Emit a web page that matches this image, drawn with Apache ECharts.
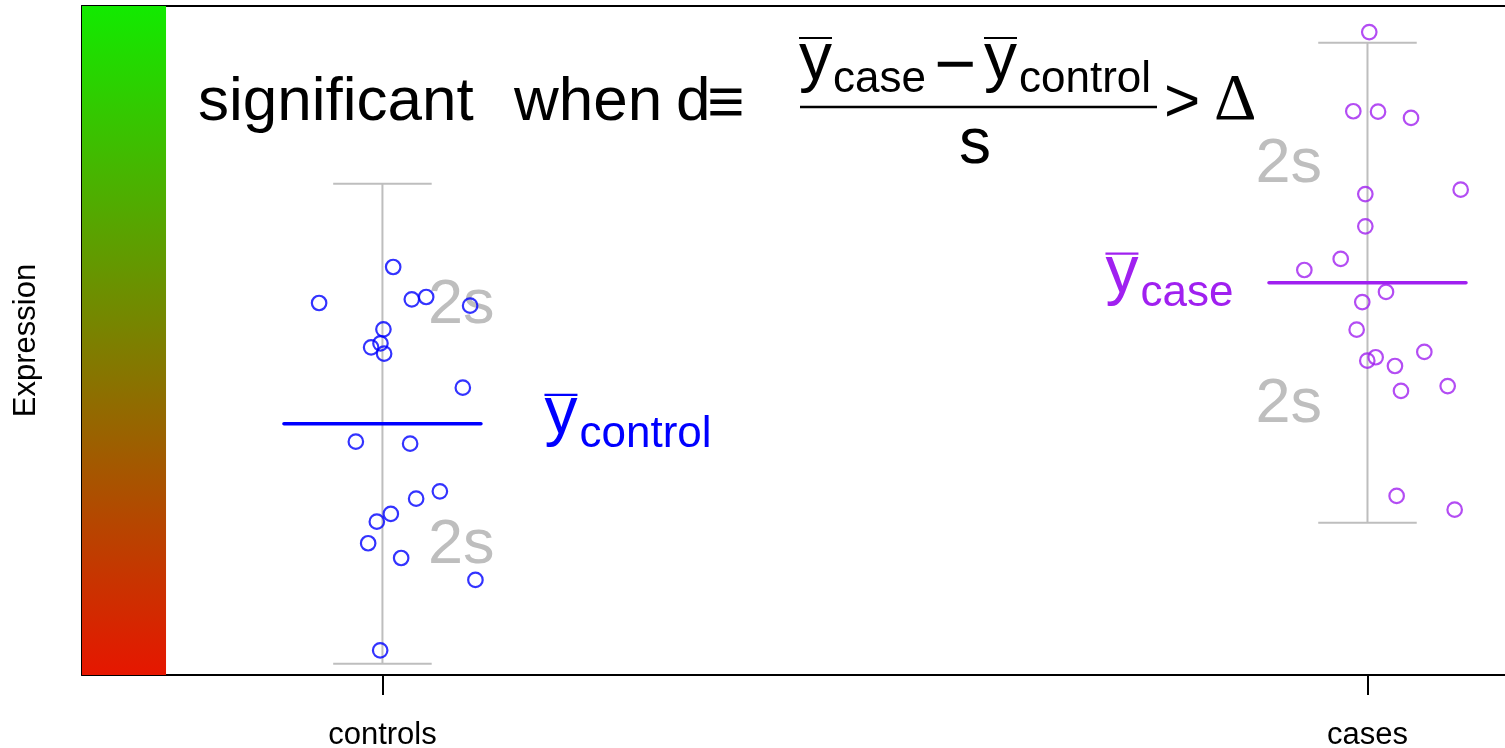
<!DOCTYPE html>
<html><head><meta charset="utf-8">
<script src="https://cdn.jsdelivr.net/npm/echarts@6/dist/echarts.min.js"></script>
<style>html,body{margin:0;padding:0;background:#fff}#c{width:1505px;height:748px}</style>
</head><body><div id="c"></div>
<script>
// ---- data ----
const groupNames = ['controls', 'cases'];
const groupPos = [1, 2];
const groupColors = ['#0000FF', '#A020F0'];
const controlsX = [1.0109, 0.9357, 1.0298, 1.0444, 1.0890, 1.0010, 0.9980, 0.9885, 1.0017, 1.0816,
                   0.9730, 1.0281, 1.0583, 1.0342, 1.0085, 0.9943, 0.9855, 1.0190, 1.0944, 0.9977];
const controlsY = [3.400, 3.100, 3.131, 3.150, 3.078, 2.881, 2.764, 2.731, 2.678, 2.394,
                   1.944, 1.928, 1.531, 1.469, 1.342, 1.278, 1.098, 0.975, 0.792, 0.206];
const casesX = [2.0018, 1.9856, 2.0107, 2.0442, 1.9978, 2.0946, 1.9978, 1.9728, 1.9359, 2.0188,
                1.9947, 1.9890, 2.0577, 2.0083, 1.9998, 2.0279, 2.0340, 2.0814, 2.0296, 2.0885];
const casesY = [5.358, 4.698, 4.694, 4.642, 4.008, 4.044, 3.739, 3.467, 3.375, 3.192,
                3.108, 2.878, 2.692, 2.648, 2.619, 2.575, 2.367, 2.408, 1.492, 1.378];
const groupSD = [1.0, 1.0];
const meanLabelSubs = ['control', 'case'];
const gradientBand = [0.695, 0.7803];
const xRange = [0.695, 2.1396];
const yRange = [0, 5.575];

// ---- derived ----
const mean = a => a.reduce((s, v) => s + v, 0) / a.length;
const groupMeans = [mean(controlsY), mean(casesY)];
const controlsData = controlsX.map((x, i) => [x, controlsY[i]]);
const casesData = casesX.map((x, i) => [x, casesY[i]]);
const statData = groupPos.map((p, i) => [p, groupMeans[i], groupSD[i], i]);

const FONT = "'Liberation Sans', Arial, Helvetica, sans-serif";
const GREY = '#BEBEBE';

function txt(text, x, baseline, size, opts) {
  opts = opts || {};
  return {
    type: 'text', x: x, y: baseline - 0.3465 * size,
    style: {
      text: text, fill: opts.color || '#000',
      font: size + 'px ' + (opts.family || FONT),
      align: opts.align || 'left', verticalAlign: 'middle'
    }
  };
}
function hline(x1, x2, y, w, color) {
  return { type: 'line', shape: { x1: x1, y1: y, x2: x2, y2: y }, style: { stroke: color || '#000', lineWidth: w } };
}

const chart = echarts.init(document.getElementById('c'));
chart.setOption({
  animation: false,
  backgroundColor: '#fff',
  grid: { left: 82, right: 0, top: 6, bottom: 73, containLabel: false, outerBoundsMode: 'none' },
  xAxis: [{
    type: 'value', min: xRange[0], max: xRange[1],
    axisLine: { show: true, onZero: false, lineStyle: { color: '#000', width: 2 } },
    axisTick: { show: true, customValues: groupPos, length: 20, lineStyle: { color: '#000', width: 2 } },
    axisLabel: { show: true, customValues: groupPos, margin: 45, fontSize: 31, color: '#000', fontFamily: FONT,
      formatter: v => groupNames[groupPos.indexOf(v)] || '' },
    splitLine: { show: false }
  }, {
    type: 'value', position: 'top', min: xRange[0], max: xRange[1],
    axisLine: { show: true, onZero: false, lineStyle: { color: '#000', width: 2 } },
    axisTick: { show: false }, axisLabel: { show: false }, splitLine: { show: false }
  }],
  yAxis: {
    type: 'value', min: yRange[0], max: yRange[1],
    name: 'Expression', nameLocation: 'middle', nameGap: 40,
    nameTextStyle: { fontSize: 31, color: '#000', fontFamily: FONT },
    axisLine: { show: true, onZero: false, lineStyle: { color: '#000', width: 2 } },
    axisTick: { show: false }, axisLabel: { show: false }, splitLine: { show: false }
  },
  series: [
    { // gradient band
      type: 'custom', clip: true, z: 1,
      data: [[gradientBand[0], gradientBand[1]]],
      renderItem: (params, api) => {
        const p0 = api.coord([api.value(0), yRange[1]]);
        const p1 = api.coord([api.value(1), yRange[0]]);
        return {
          type: 'rect', shape: { x: p0[0], y: p0[1], width: p1[0] - p0[0], height: p1[1] - p0[1] },
          style: { fill: new echarts.graphic.LinearGradient(0, 0, 0, 1, [
            { offset: 0, color: '#12EA00' }, { offset: 1, color: '#E61600' }]) }
        };
      }
    },
    { // error bars ±2s
      type: 'custom', z: 2,
      data: statData,
      renderItem: (params, api) => {
        const g = api.value(0), m = api.value(1), s = api.value(2);
        const t = api.coord([g, m + 2 * s]), b = api.coord([g, m - 2 * s]);
        const cl = api.coord([g - 0.05, m]), cr = api.coord([g + 0.05, m]);
        return { type: 'group', children: [
          { type: 'line', shape: { x1: t[0], y1: t[1], x2: b[0], y2: b[1] }, style: { stroke: GREY, lineWidth: 2 } },
          hline(cl[0], cr[0], t[1], 2, GREY),
          hline(cl[0], cr[0], b[1], 2, GREY)
        ]};
      }
    },
    { // "2s" labels
      type: 'custom', z: 3,
      data: statData,
      renderItem: (params, api) => {
        const g = api.value(0), m = api.value(1), s = api.value(2), i = api.value(3);
        const dx = i === 0 ? 0.08 : -0.08;
        const up = api.coord([g + dx, m + s]), dn = api.coord([g + dx, m - s]);
        const st = { text: '2s', fill: GREY, font: '63px ' + FONT, align: 'center', verticalAlign: 'middle' };
        return { type: 'group', children: [
          { type: 'text', x: up[0], y: up[1] + 2, style: Object.assign({}, st) },
          { type: 'text', x: dn[0], y: dn[1] + 2, style: Object.assign({}, st) }
        ]};
      }
    },
    { name: 'controls', type: 'scatter', z: 4, data: controlsData, symbol: 'circle', symbolSize: 14.5,
      itemStyle: { color: 'rgba(0,0,0,0)', borderColor: groupColors[0], borderWidth: 2.2 } },
    { name: 'cases', type: 'scatter', z: 4, data: casesData, symbol: 'circle', symbolSize: 14.5,
      itemStyle: { color: 'rgba(0,0,0,0)', borderColor: groupColors[1], borderWidth: 2.2 } },
    { // mean lines + ybar labels
      type: 'custom', z: 5,
      data: statData,
      renderItem: (params, api) => {
        const g = api.value(0), m = api.value(1), i = api.value(3);
        const col = groupColors[i];
        const l = api.coord([g - 0.1, m]), r = api.coord([g + 0.1, m]);
        const lx = i === 0 ? 0.1655 : -0.265;
        const a = api.coord([g + lx, m]);
        const base = a[1] + 14;
        return { type: 'group', children: [
          { type: 'line', shape: { x1: l[0], y1: l[1], x2: r[0], y2: r[1] },
            style: { stroke: col, lineWidth: 3.5, lineCap: 'round' } },
          txt('y', a[0] - 1, base, 66, { color: col }),
          txt(meanLabelSubs[i], a[0] + 34, base + 12, 44, { color: col }),
          hline(a[0] - 1, a[0] + 32, a[1] - 29, 2.2, col)
        ]};
      }
    }
  ],
  graphic: [{
    type: 'group', silent: true, z: 100,
    children: [
      txt('significant', 198, 124, 62),
      txt('when', 514, 124, 62),
      txt('d', 676, 124, 62),
      txt('\u2261', 726, 128, 64, { align: 'center' }),
      txt('y', 799, 84, 66),
      hline(799, 832, 38, 2.2),
      txt('case', 833, 95, 44),
      txt('\u2212', 955, 93, 72, { align: 'center' }),
      txt('y', 984, 84, 66),
      hline(984, 1017, 38, 2.2),
      txt('control', 1019, 95, 44),
      hline(800, 1157, 107, 2.5),
      txt('s', 975, 168, 64, { align: 'center' }),
      txt('>', 1182, 125, 62, { align: 'center' }),
      txt('\u0394', 1214, 125, 66, { family: "'Liberation Serif', 'Times New Roman', serif" })
    ]
  }]
});
</script></body></html>
